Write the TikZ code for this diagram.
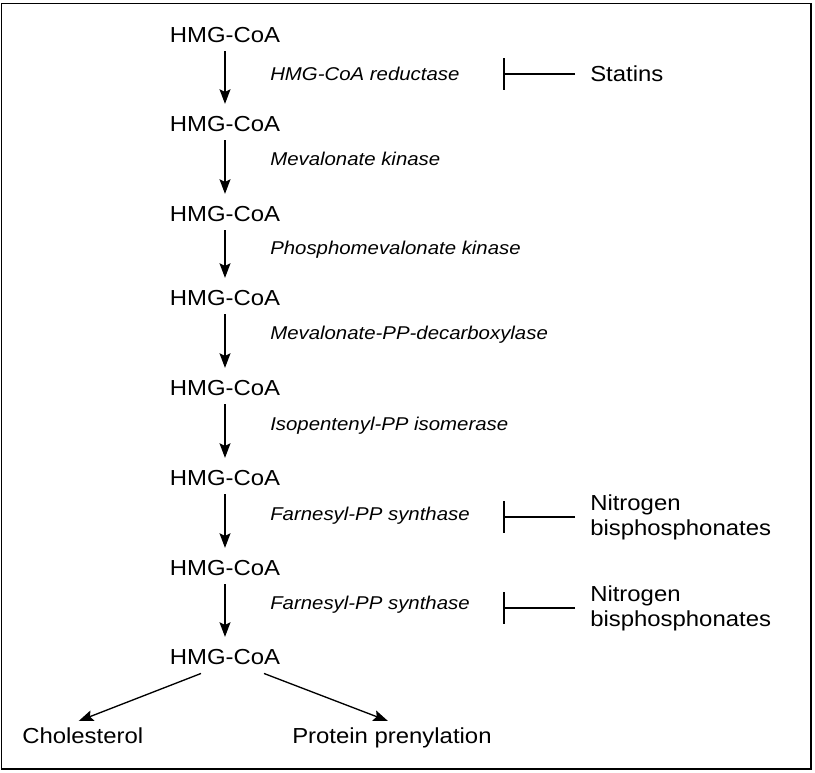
\documentclass[tikz,border=0pt]{standalone}
\usepackage{fontspec}
\setmainfont[FakeStretch=1.1]{Liberation Sans}
\usetikzlibrary{arrows.meta}
\begin{document}
\begin{tikzpicture}[x=0.75pt,y=-0.75pt,
 metab/.style={inner sep=0pt,anchor=base,font=\fontsize{16.3}{18.75}\selectfont},
 enzyme/.style={inner sep=0pt,anchor=base west,font=\fontsize{13.9}{16}\selectfont\itshape},
 drug/.style={inner sep=0pt,anchor=west,align=left,font=\fontsize{16.3}{18.75}\selectfont},
 pathway/.style={line width=1pt,shorten <=6pt,shorten >=9.5pt,-{Stealth[length=11pt,width=8.25pt,inset=2pt]}},
 inhibit/.style={line width=1pt,shorten <=11.25pt,-{Bar[width=24pt,line width=1.2pt]}}]
 \useasboundingbox (0,0) rectangle (815,773);
 \draw[line width=1.2pt] (1.5,3.5) rectangle (811,769);
 % substrates
 \node[metab] (h1) at (225,43) {HMG-CoA};
 \node[metab] (h2) at (225,132) {HMG-CoA};
 \node[metab] (h3) at (225,222) {HMG-CoA};
 \node[metab] (h4) at (225,306) {HMG-CoA};
 \node[metab] (h5) at (225,396) {HMG-CoA};
 \node[metab] (h6) at (225,486) {HMG-CoA};
 \node[metab] (h7) at (225,576) {HMG-CoA};
 \node[metab] (h8) at (225,665) {HMG-CoA};
 \node[metab,anchor=base west] (chol) at (22,744) {Cholesterol};
 \node[metab,anchor=base west] (prot) at (292,744) {Protein prenylation};
 % enzymes
 \node[enzyme] (e1) at (270,81) {HMG-CoA reductase};
 \node[enzyme] (e2) at (270,166) {Mevalonate kinase};
 \node[enzyme] (e3) at (270,255) {Phosphomevalonate kinase};
 \node[enzyme] (e4) at (270,340) {Mevalonate-PP-decarboxylase};
 \node[enzyme] (e5) at (270,431) {Isopentenyl-PP isomerase};
 \node[enzyme] (e6) at (270,521) {Farnesyl-PP synthase};
 \node[enzyme] (e7) at (270,610) {Farnesyl-PP synthase};
 % drugs
 \node[drug] (stat) at (590,74) {Statins};
 \node[drug] (nbp1) at (590,517) {Nitrogen\\bisphosphonates};
 \node[drug] (nbp2) at (590,608) {Nitrogen\\bisphosphonates};
 \coordinate (bar1) at (stat.west -| 503,0);
 \coordinate (bar2) at (nbp1.west -| 503,0);
 \coordinate (bar3) at (nbp2.west -| 503,0);
 % pathway
 \draw[pathway] (h1.south) -- (h2.north);
 \draw[pathway] (h2.south) -- (h3.north);
 \draw[pathway] (h3.south) -- (h4.north);
 \draw[pathway] (h4.south) -- (h5.north);
 \draw[pathway] (h5.south) -- (h6.north);
 \draw[pathway] (h6.south) -- (h7.north);
 \draw[pathway] (h7.south) -- (h8.north);
 \draw[pathway,shorten <=0pt,shorten >=0pt] ([shift={(-24,8)}]h8.south) -- ([shift={(-4,-7)}]chol.north);
 \draw[pathway,shorten <=0pt,shorten >=0pt] ([shift={(39,8)}]h8.south) -- ([shift={(-4,-7)}]prot.north);
 % inhibition
 \draw[inhibit] (stat.west) -- (bar1);
 \draw[inhibit] (nbp1.west) -- (bar2);
 \draw[inhibit] (nbp2.west) -- (bar3);
\end{tikzpicture}
\end{document}
